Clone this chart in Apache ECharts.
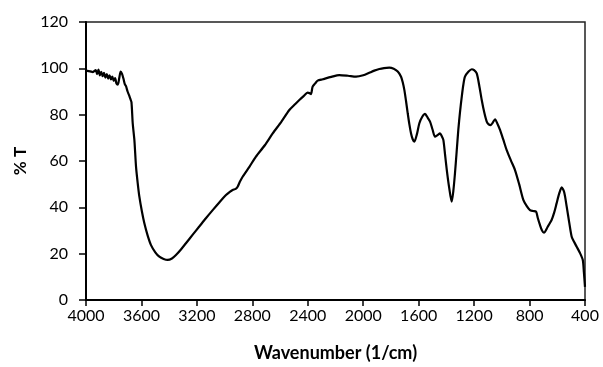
<!DOCTYPE html>
<html>
<head>
<meta charset="utf-8">
<script src="https://cdn.jsdelivr.net/npm/echarts@6/dist/echarts.min.js"></script>
<style>
  html, body { margin: 0; padding: 0; background: #fff; }
  #chart { width: 603px; height: 367px; }
</style>
</head>
<body>
<div id="chart"></div>
<script>
// FTIR transmittance spectrum: wavenumber (1/cm) vs %T
const wavenumbers = [
  4000, 3970, 3950, 3930, 3920, 3910, 3900, 3890, 3880, 3870, 3860, 3850,
  3840, 3830, 3820, 3810, 3800, 3790, 3780, 3770, 3760, 3750, 3740, 3730,
  3720, 3712, 3700, 3690, 3680, 3672, 3663, 3651, 3639, 3627, 3615, 3597,
  3579, 3555, 3531, 3500, 3471, 3440, 3411, 3380, 3351, 3315, 3279, 3230,
  3183, 3135, 3086, 3040, 2990, 2960, 2942, 2920, 2906, 2890, 2870, 2820,
  2774, 2710, 2653, 2590, 2533, 2490, 2461, 2430, 2401, 2388, 2377, 2365,
  2345, 2329, 2292, 2230, 2173, 2110, 2052, 2000, 1956, 1920, 1884, 1850,
  1812, 1780, 1751, 1727, 1715, 1703, 1691, 1679, 1667, 1655, 1643, 1631,
  1613, 1595, 1575, 1554, 1536, 1518, 1500, 1482, 1464, 1446, 1434, 1422,
  1410, 1397, 1380, 1362, 1350, 1338, 1326, 1314, 1302, 1289, 1278, 1266,
  1240, 1217, 1200, 1181, 1163, 1145, 1127, 1109, 1095, 1080, 1065, 1049,
  1031, 1013, 990, 965, 935, 905, 875, 845, 820, 797, 775, 753, 740, 725,
  710, 696, 670, 641, 622, 605, 586, 568, 550, 532, 514, 496, 478, 460,
  438, 416, 408, 400
];
const transmittance = [
  99.0, 98.7, 98.4, 99.2, 97.5, 99.5, 97.0, 98.5, 96.6, 98.0, 96.0, 97.5,
  95.6, 97.0, 95.2, 96.4, 94.6, 95.8, 93.4, 93.0, 95.8, 98.6, 97.6, 95.6,
  93.2, 92.4, 90.0, 88.5, 86.8, 85.4, 76.3, 69.1, 57.5, 50.5, 44.6, 38.3,
  33.1, 27.8, 23.7, 20.6, 18.7, 17.7, 17.3, 17.9, 19.4, 21.8, 24.5, 28.2,
  31.7, 35.3, 38.8, 42.0, 45.3, 46.8, 47.5, 48.0, 48.9, 51.0, 53.2, 57.6,
  61.9, 66.8, 71.9, 77.0, 82.0, 84.6, 86.3, 88.0, 89.5, 89.3, 88.9, 92.1,
  93.6, 94.7, 95.3, 96.3, 97.1, 96.8, 96.4, 97.0, 98.1, 99.0, 99.7, 100.1,
  100.3, 99.8, 98.6, 96.4, 94.0, 90.6, 85.8, 80.6, 75.8, 71.9, 69.4, 68.3,
  71.5, 76.3, 79.0, 80.3, 78.8, 77.0, 73.6, 70.5, 71.2, 71.9, 70.8, 69.1,
  63.0, 56.1, 48.5, 42.4, 47.0, 54.7, 64.0, 73.4, 81.0, 87.8, 92.8, 96.4,
  98.6, 99.6, 99.2, 97.8, 92.6, 86.3, 81.0, 77.0, 75.8, 75.5, 76.6, 78.0,
  76.0, 73.4, 69.3, 64.7, 60.3, 56.1, 50.0, 43.2, 40.5, 38.8, 38.4, 38.1,
  35.3, 32.4, 30.0, 29.1, 31.5, 34.5, 37.8, 41.7, 46.0, 48.6, 46.5, 40.3,
  33.5, 27.3, 25.0, 23.0, 20.5, 17.3, 12.0, 5.7
];
const xTicks = { min: 400, max: 4000, step: 400 };
const yTicks = { min: 0, max: 120, step: 20 };

const points = wavenumbers.map((w, i) => [w, transmittance[i]]);

const chart = echarts.init(document.getElementById('chart'), null, { renderer: 'canvas' });
const labelFont = 'Lato, "Open Sans", "Liberation Sans", sans-serif';

chart.setOption({
  animation: false,
  backgroundColor: '#fff',
  grid: {
    left: 86, right: 18, top: 22, bottom: 67,
    show: true, borderColor: '#222', borderWidth: 1.5, backgroundColor: '#fff'
  },
  xAxis: {
    type: 'value',
    inverse: true,
    min: xTicks.min, max: xTicks.max, interval: xTicks.step,
    name: 'Wavenumber (1/cm)',
    nameLocation: 'middle',
    nameGap: 44,
    nameTextStyle: { fontFamily: labelFont, fontSize: 18, fontWeight: 'bold', color: '#000' },
    axisLine: { show: true, onZero: false, lineStyle: { color: '#000', width: 2 } },
    axisTick: { show: true, inside: false, length: 6, lineStyle: { color: '#000', width: 1.5 } },
    axisLabel: {
      margin: 8, fontFamily: labelFont, fontSize: 16, color: '#000',
      formatter: v => String(v)
    },
    splitLine: { show: false }
  },
  yAxis: {
    type: 'value',
    min: yTicks.min, max: yTicks.max, interval: yTicks.step,
    name: '% T',
    nameLocation: 'middle',
    nameGap: 54,
    nameRotate: 90,
    nameTextStyle: { fontFamily: labelFont, fontSize: 17, fontWeight: 'bold', color: '#000' },
    axisLine: { show: true, onZero: false, lineStyle: { color: '#000', width: 2 } },
    axisTick: { show: true, inside: false, length: 7, lineStyle: { color: '#000', width: 1.5 } },
    axisLabel: {
      margin: 18, fontFamily: labelFont, fontSize: 16, color: '#000',
      formatter: v => String(v)
    },
    splitLine: { show: false }
  },
  series: [{
    type: 'line',
    data: points,
    showSymbol: false,
    smooth: 0.25,
    lineStyle: { color: '#000', width: 2.2 },
    clip: true
  }]
});
</script>
</body>
</html>
